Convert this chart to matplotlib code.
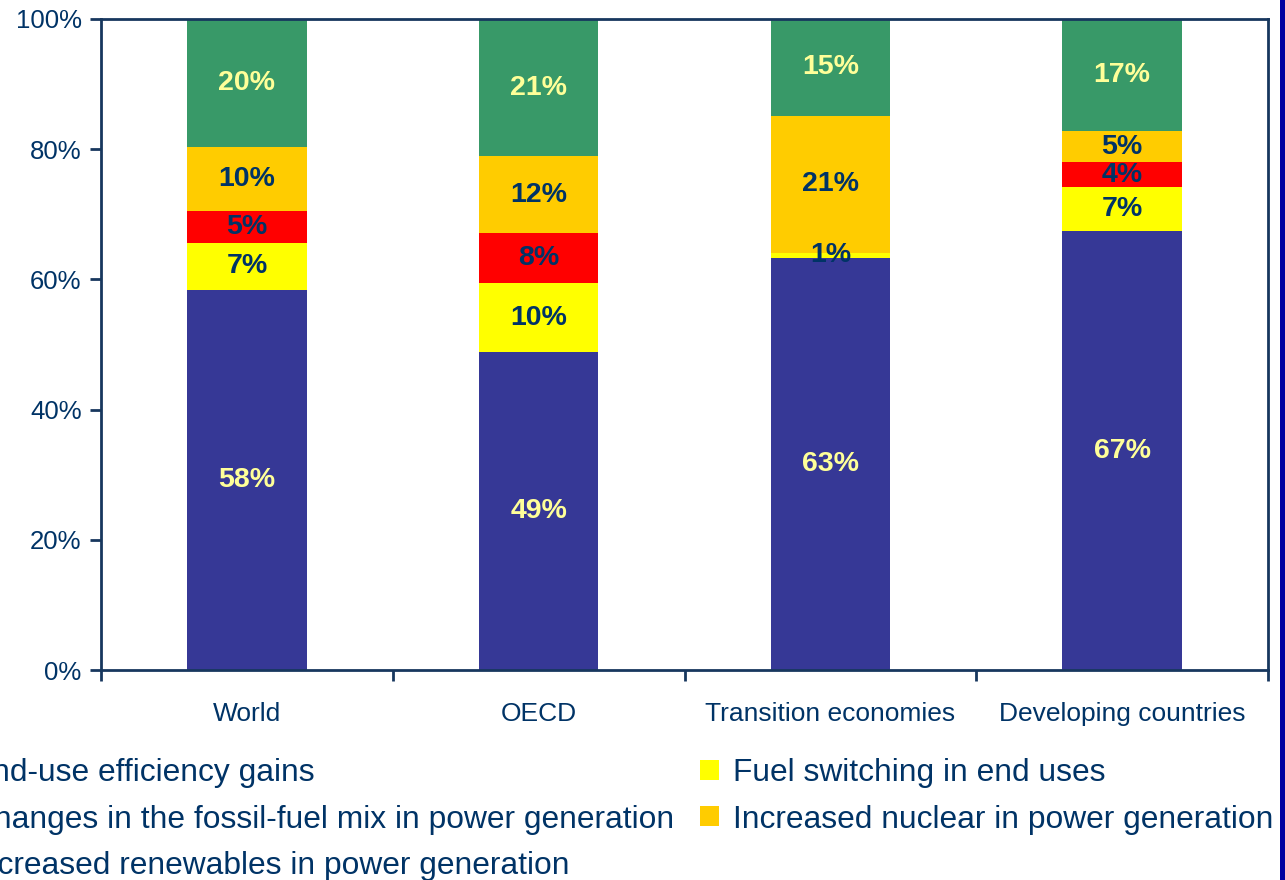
import numpy as np
import matplotlib.pyplot as plt
from matplotlib.patches import Patch, Rectangle

plt.rcParams['font.family'] = ['Liberation Sans', 'DejaVu Sans']

# Data (shares of CO2 savings, %)
regions = ["World", "OECD", "Transition economies", "Developing countries"]
efficiency = [58.4, 48.8, 63.3, 67.4]
fuel_switch = [7.2, 10.6, 0.8, 6.8]
fossil_mix = [4.9, 7.7, 0.0, 3.8]
nuclear = [9.8, 11.8, 21.0, 4.8]
renewables = [19.7, 21.1, 14.9, 17.2]

eff_lbl = ["58%", "49%", "63%", "67%"]
fsw_lbl = ["7%", "10%", "1%", "7%"]
fos_lbl = ["5%", "8%", "", "4%"]
nuc_lbl = ["10%", "12%", "21%", "5%"]
ren_lbl = ["20%", "21%", "15%", "17%"]

navy = "#17375E"
light = "#FFFF99"
dark_txt = "#003366"

series = [
    ("End-use efficiency gains", efficiency, eff_lbl, "#363896", light),
    ("Fuel switching in end uses", fuel_switch, fsw_lbl, "#FFFF00", dark_txt),
    ("Changes in the fossil-fuel mix in power generation", fossil_mix, fos_lbl, "#FF0000", dark_txt),
    ("Increased nuclear in power generation", nuclear, nuc_lbl, "#FFCC00", dark_txt),
    ("Increased renewables in power generation", renewables, ren_lbl, "#389968", light),
]

fig = plt.figure(figsize=(12.85, 8.8), dpi=100)
ax = fig.add_axes([101 / 1285, 1 - 670 / 880, 1167 / 1285, 651 / 880])

x = np.arange(len(regions))
bottom = np.zeros(len(regions))
handles = {}
for name, vals, lbls, col, tcol in series:
    vals = np.array(vals)
    ax.bar(x, vals, width=0.41, bottom=bottom, color=col, edgecolor="none", zorder=2)
    handles[name] = Patch(facecolor=col, edgecolor="none")
    for xi, b, v, t in zip(x, bottom, vals, lbls):
        if t:
            ax.text(xi, b + v / 2, t, ha="center", va="center", fontsize=20.5,
                    fontweight="bold", color=tcol, zorder=3)
    bottom += vals

ax.set_xlim(-0.5, 3.5)
ax.set_ylim(0, 100)
ax.set_yticks(np.arange(0, 101, 20))
ax.set_yticklabels(["%d%%" % v for v in range(0, 101, 20)])
ax.set_xticks(np.arange(-0.5, 3.6, 1))
ax.set_xticklabels([])
ax.set_xticks(x, minor=True)
ax.set_xticklabels(regions, minor=True)
ax.tick_params(axis="x", which="minor", length=0, pad=23, labelsize=19, labelcolor=dark_txt)
ax.tick_params(axis="x", which="major", length=8, width=2, color=navy, direction="out")
ax.tick_params(axis="y", length=8, width=2, color=navy, labelsize=18.5, labelcolor=dark_txt, pad=6)
for s in ax.spines.values():
    s.set_color(navy)
    s.set_linewidth(2)

# blue strip on the right edge
fig.patches.append(Rectangle((1280 / 1285, 0), 5 / 1285, 1, transform=fig.transFigure,
                             facecolor="#0000A0", edgecolor="none"))

order = ["End-use efficiency gains",
         "Changes in the fossil-fuel mix in power generation",
         "Increased renewables in power generation",
         "Fuel switching in end uses",
         "Increased nuclear in power generation"]
fig.legend([handles[n] for n in order], order, ncol=2, loc="upper left",
           bbox_to_anchor=(-62 / 1285, 1 - 758 / 880), frameon=False,
           fontsize=22.9, labelcolor=dark_txt, handlelength=0.6, handleheight=0.6,
           handletextpad=0.45, columnspacing=0.8, labelspacing=0.52, borderpad=0,
           borderaxespad=0)

fig.savefig("out.png", dpi=100)
